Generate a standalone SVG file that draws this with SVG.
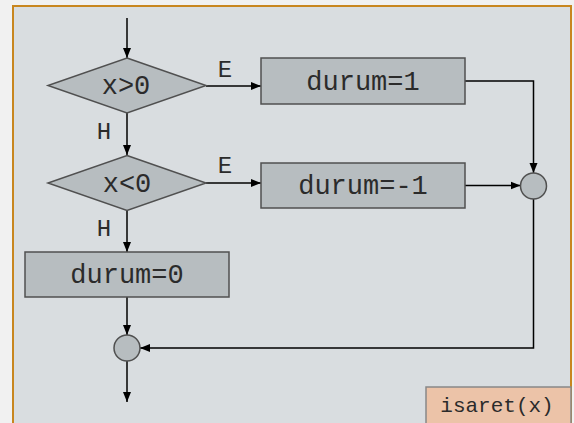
<svg xmlns="http://www.w3.org/2000/svg" width="574" height="423" viewBox="0 0 574 423">
<defs>
<marker id="ah" viewBox="0 0 10 10" refX="10" refY="5" markerWidth="10" markerHeight="10" markerUnits="userSpaceOnUse" orient="auto">
<path d="M0,1 L10,5 L0,9 Z" fill="#000"/>
</marker>
<style>
.shape{fill:#b7bdc0;stroke:#505050;stroke-width:1.5}
.txt{font-family:"Liberation Mono","Courier New",monospace;font-size:27px;fill:#2b2b2b;text-anchor:middle}
.lbl{font-family:"Liberation Mono","Courier New",monospace;font-size:24px;fill:#2b2b2b;text-anchor:middle}
.con{fill:none;stroke:#000;stroke-width:1.5}
.arr{marker-end:url(#ah)}
</style>
</defs>
<rect x="0" y="0" width="574" height="423" fill="#f1f1f1"/>
<rect x="13" y="6" width="558" height="430" fill="#d9dde0" stroke="#c8861f" stroke-width="2"/>
<g id="connectors">
<path class="con arr" d="M127,18 V58"/>
<path class="con arr" d="M206,86 H261"/>
<path class="con arr" d="M465,81 H533.5 V173"/>
<path class="con arr" d="M127,113 V155"/>
<path class="con arr" d="M206,183 H261"/>
<path class="con arr" d="M465,185.5 H520.5"/>
<path class="con arr" d="M127,211 V252"/>
<path class="con arr" d="M127,297 V335"/>
<path class="con arr" d="M533.5,199 V348 H140"/>
<path class="con arr" d="M127,361 V402"/>
<text class="lbl" x="225" y="77">E</text>
<text class="lbl" x="225" y="173">E</text>
<text class="lbl" x="104" y="139">H</text>
<text class="lbl" x="104" y="235.5">H</text>
</g>
<g id="cond1">
<polygon class="shape" points="127,58 206,85.5 127,113 48,85.5"/>
<text class="txt" x="126" y="94">x&gt;0</text>
</g>
<g id="cond2">
<polygon class="shape" points="127,155.5 206,183 127,210.5 48,183"/>
<text class="txt" x="127" y="191.5">x&lt;0</text>
</g>
<g id="set1">
<rect class="shape" x="261" y="58" width="204" height="46"/>
<text class="txt" x="363" y="90">durum=1</text>
</g>
<g id="setm1">
<rect class="shape" x="261" y="163" width="204" height="45"/>
<text class="txt" x="363" y="194">durum=-1</text>
</g>
<g id="set0">
<rect class="shape" x="25" y="252" width="204" height="45"/>
<text class="txt" x="127" y="282.5">durum=0</text>
</g>
<g id="join1">
<circle class="shape" cx="533.5" cy="186" r="13"/>
</g>
<g id="join2">
<circle class="shape" cx="127" cy="348" r="13"/>
</g>
<g id="title">
<rect x="426" y="387" width="145" height="45" fill="#ecc3a8" stroke="#888" stroke-width="1.5"/>
<text x="497" y="411.5" font-family="Liberation Mono, Courier New, monospace" font-size="21" fill="#2b2b2b" text-anchor="middle">isaret(x)</text>
</g>
</svg>
